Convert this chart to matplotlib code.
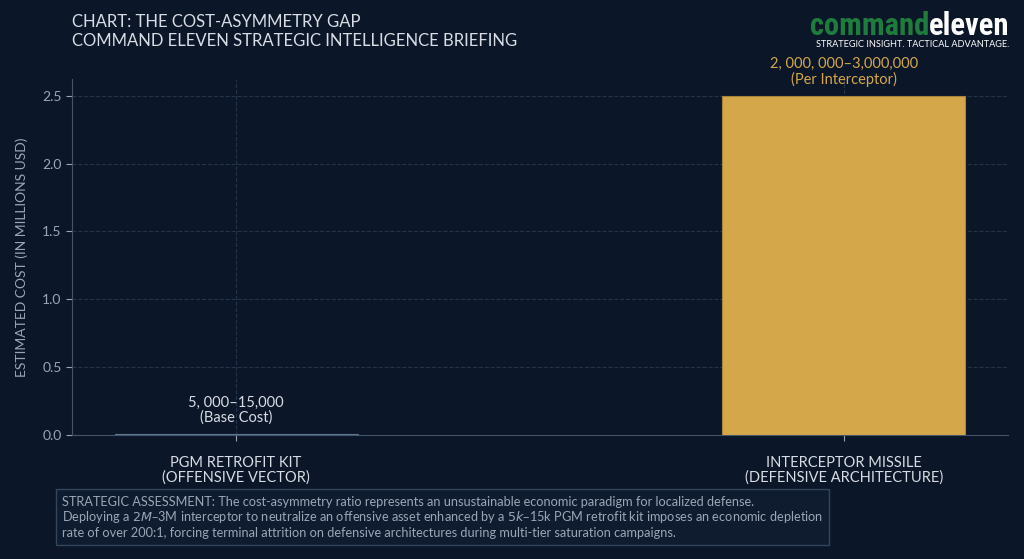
import matplotlib
matplotlib.use('Agg')
import matplotlib.pyplot as plt
from matplotlib import font_manager

categories = ['PGM RETROFIT KIT\n(OFFENSIVE VECTOR)', 'INTERCEPTOR MISSILE\n(DEFENSIVE ARCHITECTURE)']
values = [0.01, 2.5]
value_labels = ['5, 000–15,000\n(Base Cost)', '2, 000, 000–3,000,000\n(Per Interceptor)']
y_ticks = [0.0, 0.5, 1.0, 1.5, 2.0, 2.5]

BG = '#0b1628'
GOLD = '#d4a84a'
STEEL = '#4d6680'
GRID = '#24344a'
TXT = '#d8dde5'
MUTED = '#9aa6b5'

plt.rcParams['font.family'] = ['Lato', 'DejaVu Sans']

# pick a narrow face for the logo if one is installed
installed = set(f.name for f in font_manager.fontManager.ttflist)
logo_font, logo_size = 'DejaVu Sans', 15.5
for name, size in [('Liberation Sans Narrow', 22), ('Roboto Condensed', 22), ('DejaVu Sans Condensed', 18)]:
    if name in installed:
        logo_font, logo_size = name, size
        break

fig = plt.figure(figsize=(10.24, 5.59), dpi=100, facecolor=BG)
ax = fig.add_axes([0.0703, 0.222, 0.914, 0.637])
ax.set_facecolor(BG)

x = list(range(len(categories)))
bars = ax.bar(x, values, width=0.4, color=[STEEL, GOLD], edgecolor=['#5c7690', '#a8843a'], linewidth=0.8, zorder=3)

ax.set_xlim(-0.27, 1.27)
ax.set_ylim(0, 2.625)
ax.set_yticks(y_ticks)
ax.set_yticklabels(['{:.1f}'.format(v) for v in y_ticks])
ax.set_xticks(x)
ax.set_xticklabels(categories, fontsize=10.5, color=TXT, linespacing=1.05)
ax.tick_params(axis='y', colors=MUTED, labelsize=10, length=4)
ax.tick_params(axis='x', colors=MUTED, labelcolor=TXT, length=4, pad=11)
ax.grid(True, linestyle='--', color=GRID, linewidth=0.8, zorder=0)
for s in ['top', 'right']:
    ax.spines[s].set_visible(False)
for s in ['left', 'bottom']:
    ax.spines[s].set_color('#44556b')
ax.set_ylabel('ESTIMATED COST (IN MILLIONS USD)', color=MUTED, fontsize=10, labelpad=10)

label_colors = [TXT, GOLD]
for b, lab, c in zip(bars, value_labels, label_colors):
    ax.annotate(lab, (b.get_x() + b.get_width() / 2, b.get_height()),
                xytext=(0, 6), textcoords='offset points', ha='center', va='bottom',
                fontsize=10.5, color=c, linespacing=1.12)

# header
fig.text(0.0703, 0.975, 'CHART: THE COST-ASYMMETRY GAP\nCOMMAND ELEVEN STRATEGIC INTELLIGENCE BRIEFING',
         ha='left', va='top', fontsize=12, color=TXT, linespacing=1.2)

# logo
fig.canvas.draw()
r = fig.canvas.get_renderer()
t2 = fig.text(0.986, 0.937, 'eleven', ha='right', va='baseline', fontsize=logo_size, fontweight='bold',
              color='white', family=logo_font)
w = t2.get_window_extent(renderer=r).width / fig.bbox.width
fig.text(0.986 - w, 0.937, 'command', ha='right', va='baseline', fontsize=logo_size, fontweight='bold',
         color='#1e7d3c', family=logo_font)
fig.text(0.986, 0.928, 'STRATEGIC INSIGHT. TACTICAL ADVANTAGE.', ha='right', va='top',
         fontsize=6.6, color='white')

# assessment box
note = ('STRATEGIC ASSESSMENT: The cost-asymmetry ratio represents an unsustainable economic paradigm for localized defense.\n'
        'Deploying a $2M$–3M interceptor to neutralize an offensive asset enhanced by a $5k$–15k PGM retrofit kit imposes an economic depletion\n'
        'rate of over 200:1, forcing terminal attrition on defensive architectures during multi-tier saturation campaigns.')
fig.text(0.0605, 0.036, note, ha='left', va='bottom', fontsize=9.2, color=MUTED, linespacing=1.15,
         bbox=dict(boxstyle='square,pad=0.5', facecolor='#0f1c30', edgecolor='#33455c', linewidth=1))

fig.savefig('out.png', dpi=100, facecolor=BG)
